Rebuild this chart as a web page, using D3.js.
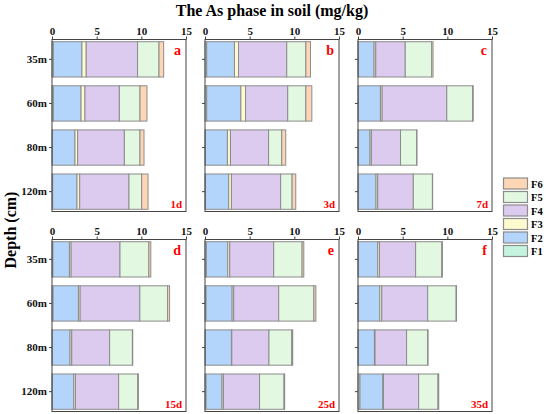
<!DOCTYPE html>
<html>
<head>
<meta charset="utf-8">
<script src="https://cdn.jsdelivr.net/npm/d3@7/dist/d3.min.js"></script>
<style>
body { margin: 0; background: #fff; }
svg text { font-family: "Liberation Serif", "Times New Roman", serif; font-weight: bold; }
</style>
</head>
<body>
<svg width="550" height="414"></svg>
<script>
var depths = ["35m", "60m", "80m", "120m"];
var fractions = ["F1", "F2", "F3", "F4", "F5", "F6"];
var colors = ["#c4f3df", "#b4d5fb", "#fdfad0", "#dccbef", "#e3f8e1", "#fdd6b5"];
var panelLetters = ["a", "b", "c", "d", "e", "f"];
var panelDays = ["1d", "3d", "7d", "15d", "25d", "35d"];
var xTicks = [0, 5, 10, 15];

// per panel, per depth: F1..F6 values (mg/kg)
var dayA = [[0.15, 3.2, 0.48, 5.75, 2.4, 0.52], [0.15, 3.1, 0.44, 3.85, 2.31, 0.78], [0.05, 2.52, 0.3, 5.23, 1.75, 0.45], [0.08, 2.72, 0.3, 5.52, 1.42, 0.71]];
var dayB = [[0.19, 3.11, 0.45, 5.4, 2.14, 0.52], [0.19, 3.82, 0.53, 4.72, 2.03, 0.67], [0.04, 2.47, 0.34, 4.27, 1.47, 0.45], [0.06, 2.6, 0.3, 5.51, 1.28, 0.41]];
var dayC = [[0.05, 1.75, 0.19, 3.3, 2.96, 0.15], [0.05, 2.46, 0.19, 7.24, 2.89, 0.07], [0.04, 1.31, 0.15, 3.26, 1.8, 0.04], [0.04, 1.98, 0.19, 3.98, 2.14, 0.03]];
var dayD = [[0.1, 1.85, 0.19, 5.47, 3.23, 0.22], [0.12, 2.84, 0.19, 6.68, 3.11, 0.22], [0.04, 1.98, 0.19, 4.24, 2.55, 0.04], [0.04, 2.4, 0.18, 4.84, 2.14, 0.07]];
var dayE = [[0.15, 2.4, 0.22, 4.92, 3.18, 0.19], [0.12, 2.92, 0.18, 5.03, 3.94, 0.22], [0.04, 2.92, 0.04, 4.16, 2.55, 0.11], [0.12, 1.79, 0.15, 4.05, 2.74, 0.07]];
var dayF = [[0.04, 2.17, 0.19, 4.05, 2.93, 0.07], [0.04, 2.4, 0.22, 5.14, 3.19, 0.04], [0.04, 1.8, 0.07, 3.53, 2.36, 0.04], [0.22, 2.55, 0.08, 3.94, 2.17, 0.08]];
var panelData = [dayA, dayB, dayC, dayD, dayE, dayF];

var svg = d3.select("svg");
var colX = [52, 205, 358];
var rowY = [39.5, 239.5];
var pw = 134, ph = 172;

var x = d3.scaleLinear().domain([0, 15]).range([0, pw]);
var y = d3.scaleBand().domain(depths).range([0, ph]).paddingInner(0.2).paddingOuter(0.05);

svg.append("text")
    .attr("x", 272).attr("y", 16)
    .attr("text-anchor", "middle")
    .attr("font-size", 16)
    .text("The As phase in soil (mg/kg)");

svg.append("text")
    .attr("transform", "translate(16,230) rotate(-90)")
    .attr("text-anchor", "middle")
    .attr("font-size", 16)
    .text("Depth (cm)");

panelData.forEach(function(rows, p) {
    var col = p % 3, row = Math.floor(p / 3);
    var g = svg.append("g").attr("transform", "translate(" + colX[col] + "," + rowY[row] + ")");

    rows.forEach(function(vals, i) {
	var acc = 0;
	vals.forEach(function(v, k) {
	    g.append("rect")
		.attr("x", x(acc)).attr("y", y(depths[i]))
		.attr("width", x(acc + v) - x(acc))
		.attr("height", y.bandwidth())
		.attr("fill", colors[k])
		.attr("stroke", "#8c8c8c").attr("stroke-width", 1);
	    acc += v;
	});
    });

    g.append("rect")
	.attr("width", pw).attr("height", ph)
	.attr("fill", "none").attr("stroke", "#444").attr("stroke-width", 1);

    var xa = g.append("g").call(d3.axisTop(x).tickValues(xTicks).tickSize(3).tickPadding(2));
    xa.select(".domain").remove();
    xa.selectAll("text").attr("font-size", 11).attr("font-family", "Liberation Serif").attr("font-weight", "bold").attr("fill", "#111");
    xa.selectAll("line").attr("stroke", "#444");

    var ya = g.append("g").call(d3.axisLeft(y).tickSize(3).tickPadding(2));
    ya.select(".domain").remove();
    ya.selectAll("line").attr("stroke", "#444");
    if (col === 0) {
	ya.selectAll("text").attr("font-size", 11).attr("font-family", "Liberation Serif").attr("font-weight", "bold").attr("fill", "#111");
    } else {
	ya.selectAll("text").remove();
    }

    g.append("text")
	.attr("x", pw - 5).attr("y", 15)
	.attr("text-anchor", "end")
	.attr("font-size", 14)
	.attr("fill", "#f00")
	.text(panelLetters[p]);

    g.append("text")
	.attr("x", pw - 4).attr("y", ph - 4)
	.attr("text-anchor", "end")
	.attr("font-size", 11)
	.attr("fill", "#f00")
	.text(panelDays[p]);
});

var legend = svg.append("g").attr("transform", "translate(503.5,178)");
fractions.slice().reverse().forEach(function(f, i) {
    var k = fractions.length - 1 - i;
    legend.append("rect")
	.attr("x", 0).attr("y", i * 13.5)
	.attr("width", 24).attr("height", 11)
	.attr("fill", colors[k]).attr("stroke", "#8c8c8c").attr("stroke-width", 1.2);
    legend.append("text")
	.attr("x", 27.5).attr("y", i * 13.5 + 9.5)
	.attr("font-size", 10.5)
	.text(f);
});
</script>
</body>
</html>
